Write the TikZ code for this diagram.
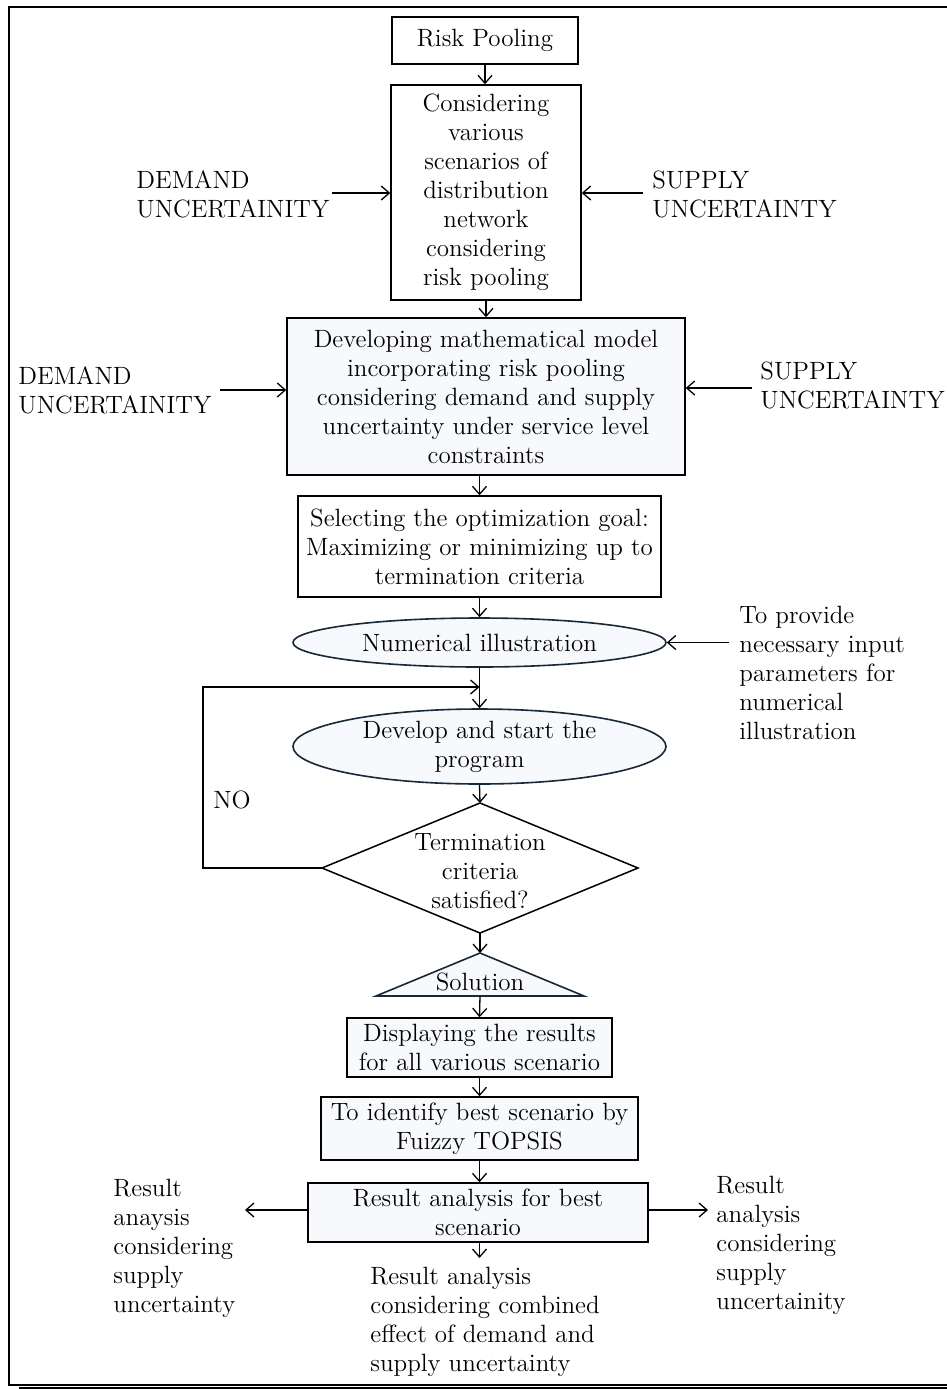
\documentclass[tikz,border=0pt]{standalone}
\usetikzlibrary{arrows.meta,shapes.geometric}
\definecolor{lightfill}{RGB}{247,249,252}
\definecolor{ellcol}{RGB}{25,40,55}
\begin{document}
\begin{tikzpicture}[x=0.5pt,y=-0.5pt,
  every node/.style={font=\fontsize{12.5}{14.5}\selectfont, inner sep=0pt},
  box/.style={draw, line width=0.75pt, align=center},
  fbox/.style={box, fill=lightfill},
  ell/.style={draw=ellcol, line width=0.8pt, fill=lightfill, ellipse},
  lbl/.style={align=left, anchor=west},
  arr/.style={-{Straight Barb[length=4pt,width=7pt]}, line width=0.65pt}]
\useasboundingbox (0,0) rectangle (947,1389);
% frame
\draw[line width=1pt] (980,7) -- (9,7) -- (9,1385) -- (980,1385);
\draw[line width=1.5pt] (19,1388) -- (980,1388);

% main column
\node[box, minimum width=93pt, minimum height=23.5pt] (risk) at (485,40.5) {Risk Pooling};
\node[box, minimum width=95pt, minimum height=107.5pt] (consid) at (486,192.5)
  {Considering\\various\\scenarios of\\distribution\\network\\considering\\risk pooling};
\node[fbox, minimum width=199pt, minimum height=78.5pt] (dev) at (486,396.5)
  {Developing mathematical model\\incorporating risk pooling\\considering demand and supply\\uncertainty under service level\\constraints};
\node[box, minimum width=181.5pt, minimum height=50.5pt] (sel) at (479.5,546.5)
  {Selecting the optimization goal:\\Maximizing or minimizing up to\\termination criteria};
\node[ell, minimum width=186.5pt, minimum height=24.5pt] (num) at (479.5,642.5) {};
\node (numt) at (num.center) {Numerical illustration};
\node[ell, minimum width=186.5pt, minimum height=37.5pt] (prog) at (479.5,746.5) {};
\node[align=center] (progt) at (prog.center) {Develop and start the\\program};

% diamond
\coordinate (diaT) at (480,803);
\coordinate (diaR) at (638,868);
\coordinate (diaB) at (480,933);
\coordinate (diaL) at (322,868);
\draw[line width=0.75pt] (diaT) -- (diaR) -- (diaB) -- (diaL) -- cycle;
\node[align=center] (dia) at (480,871) {Termination\\criteria\\satisfied?};

% solution triangle
\coordinate (solT) at (480,953);
\coordinate (solR) at (584,996);
\coordinate (solL) at (376,996);
\coordinate (solB) at (480,996);
\draw[line width=0.8pt, draw=ellcol, fill=lightfill] (solT) -- (solR) -- (solL) -- cycle;
\node (sol) at (480,982) {Solution};

\node[fbox, minimum width=132.5pt, minimum height=29.5pt] (disp) at (479.5,1047.5)
  {Displaying the results\\for all various scenario};
\node[fbox, minimum width=158.5pt, minimum height=31.5pt] (ident) at (479.5,1128.5)
  {To identify best scenario by\\Fuizzy TOPSIS};
\node[fbox, minimum width=170pt, minimum height=29.5pt] (res) at (478,1212.5)
  {Result analysis for best\\scenario};

% side labels
\node[lbl] (dem1) at (136,194) {DEMAND\\UNCERTAINITY};
\node[lbl] (sup1) at (652,194) {SUPPLY\\UNCERTAINTY};
\node[lbl] (dem2) at (18,390) {DEMAND\\UNCERTAINITY};
\node[lbl] (sup2) at (760,385) {SUPPLY\\UNCERTAINTY};
\node[lbl] (prov) at (739,672.5) {To provide\\necessary input\\parameters for\\numerical\\illustration};
\node (no) at (232,800) {NO};
\node[lbl] (lres) at (113,1248.5) {Result\\anaysis\\considering\\supply\\uncertainty};
\node[lbl] (rres) at (716,1245.5) {Result\\analysis\\considering\\supply\\uncertainity};
\node[lbl] (bres) at (370,1322) {Result analysis\\considering combined\\effect of demand and\\supply uncertainty};

% coordinates for free ends
\coordinate (d1a) at (332,193);
\coordinate (s1a) at (643,193);
\coordinate (d2a) at (220,390);
\coordinate (s2a) at (752,388);
\coordinate (pa) at (729,642.5);
\coordinate (loopX) at (203,687);
\coordinate (loopE) at (479.5,687);
\coordinate (la) at (245,1210);
\coordinate (ra) at (708,1210);
\coordinate (ba) at (479.5,1258);

% connectors
\draw[arr] (risk.south) -- (risk.south |- consid.north);
\draw[arr] (consid.south) -- (consid.south |- dev.north);
\draw[arr] (sel.north |- dev.south) -- (sel.north);
\draw[arr] (sel.south) -- (num.north);
\draw[arr] (num.south) -- (prog.north);
\draw[arr] (prog.south) -- (diaT);
\draw[arr] (diaB) -- (solT);
\draw[arr] (solB) -- (disp.north);
\draw[arr] (disp.south) -- (ident.north);
\draw[arr] (ident.south) -- (ident.south |- res.north);
\draw[arr] (ident.south |- res.south) -- (ba);
\draw[arr] (diaL) -| (loopX) -- (loopE);
\draw[arr] (d1a) -- (d1a -| consid.west);
\draw[arr] (s1a) -- (s1a -| consid.east);
\draw[arr] (d2a) -- (d2a -| dev.west);
\draw[arr] (s2a) -- (s2a -| dev.east);
\draw[arr] (pa) -- (num.east);
\draw[arr] (res.west |- la) -- (la);
\draw[arr] (res.east |- ra) -- (ra);
\end{tikzpicture}
\end{document}
